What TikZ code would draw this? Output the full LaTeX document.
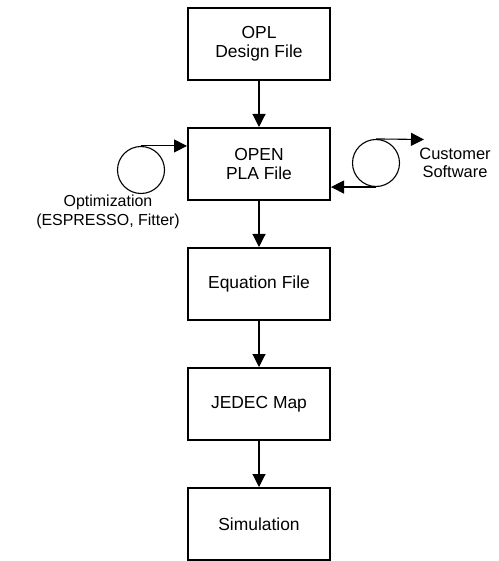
\documentclass[tikz,border=0pt]{standalone}
\usepackage{fontspec}
\setmainfont{Liberation Sans}
\usetikzlibrary{arrows.meta}
\begin{document}
\begin{tikzpicture}[x=1bp,y=-1bp,
  stepbox/.style={draw,line width=2bp,minimum width=142bp,minimum height=72bp,inner sep=0pt,align=center,font=\fontsize{17.5}{19.5}\selectfont},
  lbl/.style={align=center,font=\fontsize{16}{18.5}\selectfont,inner sep=0pt},
  spool/.style={draw,circle,line width=1.1bp,minimum size=47bp,inner sep=0pt},
  arr/.style={line width=1.1bp,-{Triangle[length=13bp,width=13bp]}}]
\useasboundingbox (0,0) rectangle (499,561);
\node[stepbox] (b1) at (259,44) {OPL\\Design File};
\node[stepbox] (b2) at (259,164) {OPEN\\PLA File};
\node[stepbox] (b3) at (259,284) {Equation File};
\node[stepbox] (b4) at (259,404) {JEDEC Map};
\node[stepbox] (b5) at (259,524) {Simulation};
\node[spool] (c1) at (141,170) {};
\node[spool] (c2) at (376,163) {};
\node[lbl] (t1) at (108,212) {Optimization\\(ESPRESSO, Fitter)};
\node[lbl,font=\fontsize{16.5}{18.5}\selectfont] (t2) at (455,163) {Customer\\Software};
\coordinate (o2) at (424,139.5);
\draw[arr] (b1) -- (b2);
\draw[arr] (b2) -- (b3);
\draw[arr] (b3) -- (b4);
\draw[arr] (b4) -- (b5);
\draw[arr] (c1.north) -- (c1.north -| b2.west);
\draw[arr] (c2.north) -- (o2);
\draw[arr] (c2.south) -- (c2.south -| b2.east);
\end{tikzpicture}
\end{document}
